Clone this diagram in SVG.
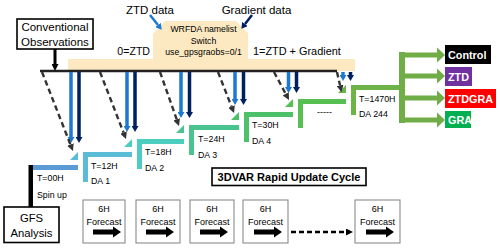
<svg xmlns="http://www.w3.org/2000/svg" width="500" height="248" viewBox="0 0 500 248">
<defs>
<style>
.t{font-family:"Liberation Sans",Arial,sans-serif;fill:#000}
.lbl{font-size:11.5px}
.sm{font-size:8.8px}
.box{fill:#fff;stroke:#000;stroke-width:1.6}
.fbox{fill:#fff;stroke:#8a8a8a;stroke-width:1.1}
.out{font-size:10.8px;font-weight:bold;fill:#fff}
.dash{stroke:#333;stroke-width:2.4;stroke-dasharray:5.5,3.5;fill:none}
.blu{stroke:#1C79CF;stroke-width:3.5;fill:none}
.nav{stroke:#002060;stroke-width:3.5;fill:none}
</style>
<marker id="mDash" viewBox="0 0 7 7" refX="0" refY="3.5" markerWidth="7" markerHeight="7" markerUnits="userSpaceOnUse" orient="auto"><path d="M0,0L7,3.5L0,7z" fill="#333"/></marker>
<marker id="mBlu" viewBox="0 0 6 7" refX="0" refY="3.5" markerWidth="6" markerHeight="7" markerUnits="userSpaceOnUse" orient="auto"><path d="M0,0L6,3.5L0,7z" fill="#1C79CF"/></marker>
<marker id="mNav" viewBox="0 0 6 7" refX="0" refY="3.5" markerWidth="6" markerHeight="7" markerUnits="userSpaceOnUse" orient="auto"><path d="M0,0L6,3.5L0,7z" fill="#002060"/></marker>
<marker id="mBlk" viewBox="0 0 7 7" refX="0" refY="3.5" markerWidth="7" markerHeight="7" markerUnits="userSpaceOnUse" orient="auto"><path d="M0,0L7,3.5L0,7z" fill="#000"/></marker>
</defs>
<rect width="500" height="248" fill="#fff"/>

<g id="namelist-switch">
<polygon points="68,59 153,59 153,34 165,21 236,21 248,33 248,59 355,59 355,71 68,71" fill="#FCE9C2"/>
<text class="t" font-size="8.7" text-anchor="middle" x="203.5" y="31.5">WRFDA namelist</text>
<text class="t" font-size="8.7" text-anchor="middle" x="203.5" y="44">Switch</text>
<text class="t" font-size="8.7" text-anchor="middle" x="203.5" y="54.5">use_gpsgraobs=0/1</text>
</g>

<g id="ztd-data"><text class="t lbl" x="150" y="14" text-anchor="middle">ZTD data</text></g>
<g id="gradient-data"><text class="t lbl" x="256.5" y="14" text-anchor="middle">Gradient data</text></g>
<g id="opt0"><text class="t" font-size="10.6" x="150" y="55" text-anchor="end">0=ZTD</text></g>
<g id="opt1"><text class="t" font-size="10.9" x="253" y="54.5">1=ZTD + Gradient</text></g>

<g id="conv-obs">
<rect class="box" x="17" y="19" width="76" height="30" stroke-width="2"/>
<text class="t lbl" x="55" y="31" text-anchor="middle">Conventional</text>
<text class="t lbl" x="55" y="45.5" text-anchor="middle">Observations</text>
</g>

<g id="gfs">
<rect class="box" x="4" y="207" width="55" height="35.5"/>
<text class="t" font-size="11.3" x="31.5" y="222" text-anchor="middle">GFS</text>
<text class="t" font-size="11.3" x="31.5" y="236.5" text-anchor="middle">Analysis</text>
</g>

<g id="spinup">
<rect x="28.5" y="165" width="4.5" height="42" fill="#000"/>
<rect x="33" y="165" width="45" height="5" fill="#5B9BD5"/>
<text class="t sm" x="37" y="181">T=00H</text>
<text class="t sm" x="37" y="198">Spin up</text>
</g>

<g id="da1">
<polygon points="78,152 78,160 70,160" fill="#5BBCD8"/>
<path d="M83,182V152H132v5H88v25z" fill="#5BBCD8"/>
<text class="t sm" x="91" y="169">T=12H</text>
<text class="t sm" x="91" y="184">DA 1</text>
</g>
<g id="da2">
<polygon points="132,139 132,147 124,147" fill="#4DCDBE"/>
<path d="M137,169V139H184v5H142v25z" fill="#4DCDBE"/>
<text class="t sm" x="145" y="155">T=18H</text>
<text class="t sm" x="145" y="170.5">DA 2</text>
</g>
<g id="da3">
<polygon points="184,125 184,133 176,133" fill="#4AC48E"/>
<path d="M189,155V125H239v5H194v25z" fill="#4AC48E"/>
<text class="t sm" x="198" y="142">T=24H</text>
<text class="t sm" x="198" y="157.5">DA 3</text>
</g>
<g id="da4">
<polygon points="239,112 239,120 231,120" fill="#4CC16A"/>
<path d="M244,142V112H293v5H249v25z" fill="#4CC16A"/>
<text class="t sm" x="252" y="128">T=30H</text>
<text class="t sm" x="252" y="143.5">DA 4</text>
</g>
<g id="da-mid">
<polygon points="293,99 293,107 285,107" fill="#58C052"/>
<path d="M298,128V99H346v5H303v24z" fill="#58C052"/>
<text class="t" font-size="9" x="317" y="115" fill="#777">-----</text>
</g>
<g id="da244">
<polygon points="346,85 346,93 338,93" fill="#6DB347"/>
<path d="M351,115V85H400v5H356v25z" fill="#6DB347"/>
<text class="t sm" x="359" y="102">T=1470H</text>
<text class="t sm" x="359" y="117">DA 244</text>
</g>

<g id="cycle-title">
<rect class="box" x="212" y="168" width="154" height="17.5" stroke-width="2"/>
<text class="t" font-size="11" font-weight="bold" x="289" y="180.5" text-anchor="middle">3DVAR Rapid Update Cycle</text>
</g>

<g id="fc1"><rect class="fbox" x="83" y="200" width="42" height="43"/><text class="t" font-size="9" x="104" y="212" text-anchor="middle">6H</text><text class="t" font-size="9" x="104" y="225" text-anchor="middle">Forecast</text><path d="M93,229.5h20v-3l8,5.5-8,5.5v-3h-20z" fill="#000"/></g>
<g id="fc2"><rect class="fbox" x="136" y="200" width="44" height="43"/><text class="t" font-size="9" x="158" y="212" text-anchor="middle">6H</text><text class="t" font-size="9" x="158" y="225" text-anchor="middle">Forecast</text><path d="M146,229.5h20v-3l8,5.5-8,5.5v-3h-20z" fill="#000"/></g>
<g id="fc3"><rect class="fbox" x="190" y="200" width="44" height="43"/><text class="t" font-size="9" x="212" y="212" text-anchor="middle">6H</text><text class="t" font-size="9" x="212" y="225" text-anchor="middle">Forecast</text><path d="M200,229.5h20v-3l8,5.5-8,5.5v-3h-20z" fill="#000"/></g>
<g id="fc4"><rect class="fbox" x="243" y="200" width="45" height="43"/><text class="t" font-size="9" x="265.5" y="212" text-anchor="middle">6H</text><text class="t" font-size="9" x="265.5" y="225" text-anchor="middle">Forecast</text><path d="M254,229.5h20v-3l8,5.5-8,5.5v-3h-20z" fill="#000"/></g>
<g id="fc5"><rect class="fbox" x="355" y="200" width="45" height="43"/><text class="t" font-size="9" x="377.5" y="212" text-anchor="middle">6H</text><text class="t" font-size="9" x="377.5" y="225" text-anchor="middle">Forecast</text><path d="M366,229.5h20v-3l8,5.5-8,5.5v-3h-20z" fill="#000"/></g>

<g id="out-control"><rect x="445" y="45" width="46" height="19" fill="#000"/><text class="t out" x="448" y="58.5">Control</text></g>
<g id="out-ztd"><rect x="445" y="67" width="27" height="19" fill="#7030A0"/><text class="t out" x="448" y="80.5">ZTD</text></g>
<g id="out-ztdgra"><rect x="445" y="89" width="51" height="19" fill="#FF0000"/><text class="t out" x="448" y="102.5">ZTDGRA</text></g>
<g id="out-gra"><rect x="445" y="111" width="26" height="17" fill="#00B050"/><text class="t out" x="448" y="123.5">GRA</text></g>

<g id="connectors">
<path d="M40,71H337" stroke="#222" stroke-width="2.5" fill="none"/>
<path d="M55,49V64" stroke="#000" stroke-width="3" marker-end="url(#mBlk)"/>
<path d="M150,15L158,25" stroke="#1C79CF" stroke-width="2.5" marker-end="url(#mBlu)"/>
<path d="M252,15L245,24" stroke="#002060" stroke-width="2.5" marker-end="url(#mNav)"/>

<path class="blu" d="M71,72V137" marker-end="url(#mBlu)"/>
<path class="nav" d="M79,72V137" marker-end="url(#mNav)"/>
<path class="blu" d="M127,72V126" marker-end="url(#mBlu)"/>
<path class="nav" d="M135,72V126" marker-end="url(#mNav)"/>
<path class="blu" d="M181,72V112" marker-end="url(#mBlu)"/>
<path class="nav" d="M189.5,72V112" marker-end="url(#mNav)"/>
<path class="blu" d="M235,72V99" marker-end="url(#mBlu)"/>
<path class="nav" d="M243.5,72V99" marker-end="url(#mNav)"/>
<path class="blu" d="M288.5,72V87" marker-end="url(#mBlu)"/>
<path class="nav" d="M296.5,72V87" marker-end="url(#mNav)"/>
<path class="blu" d="M343,72V75" marker-end="url(#mBlu)"/>
<path class="nav" d="M350.5,72V75" marker-end="url(#mNav)"/>

<path class="dash" d="M42,72L70.4,144.5" marker-end="url(#mDash)"/>
<path class="dash" d="M100,72L123.5,132.5" marker-end="url(#mDash)"/>
<path class="dash" d="M160,72L176.7,119.4" marker-end="url(#mDash)"/>
<path class="dash" d="M218,72L231.5,106.5" marker-end="url(#mDash)"/>
<path class="dash" d="M274,72L285.7,93.8" marker-end="url(#mDash)"/>
<path class="dash" d="M337,72L340,85.3" marker-end="url(#mDash)"/>

<path d="M291,232H346" stroke="#000" stroke-width="2.4" stroke-dasharray="5,3" fill="none" marker-end="url(#mBlk)"/>

<g fill="#70AD47">
<rect x="399" y="52" width="6" height="71"/>
<path d="M405,52.5h32v-5l8,7.5-8,7.5v-5h-32z"/>
<path d="M405,73.5h32v-5l8,7.5-8,7.5v-5h-32z"/>
<path d="M405,95.5h32v-5l8,7.5-8,7.5v-5h-32z"/>
<path d="M405,117.5h32v-5l8,7.5-8,7.5v-5h-32z"/>
</g>
</g>
</svg>
